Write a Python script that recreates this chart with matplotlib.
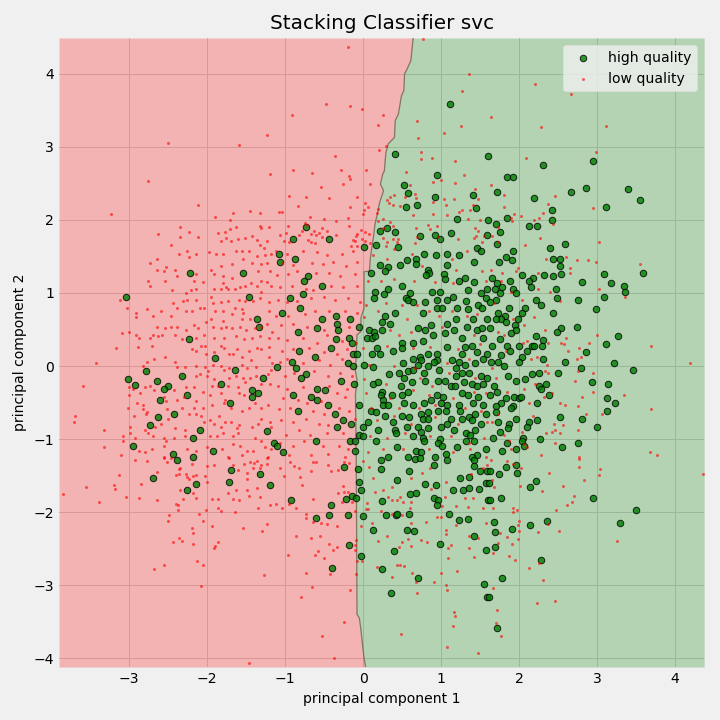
import numpy as np
import matplotlib
matplotlib.use("Agg")
import matplotlib.pyplot as plt

title = "Stacking Classifier svc"
xlabel = "principal component 1"
ylabel = "principal component 2"
class_names = ["high quality", "low quality"]
x_limits = (-3.9, 4.37)
y_limits = (-4.12, 4.49)
x_ticks = [-3, -2, -1, 0, 1, 2, 3, 4]
y_ticks = [-4, -3, -2, -1, 0, 1, 2, 3, 4]

# decision boundary (pc2 -> pc1 of boundary between regions)
bnd_pc2 = [-4.12, -4.0, -3.81, -3.61, -3.45, -3.40, -1.26, -0.39, -0.19, -0.07, 0.43, 0.47, 0.66, 0.79,
           1.29, 1.30, 1.47, 1.62, 1.76, 1.94, 2.08, 2.24, 2.40, 2.49, 2.63, 2.67, 2.92, 3.04, 3.13,
           3.36, 3.45, 3.70, 3.77, 4.0, 4.06, 4.18, 4.49]
bnd_pc1 = [0.03, 0.01, -0.01, -0.03, -0.05, -0.08, -0.09, -0.10, -0.08, -0.10, -0.08, -0.03, -0.03, 0.01,
           0.01, 0.08, 0.09, 0.11, 0.13, 0.15, 0.18, 0.21, 0.26, 0.22, 0.25, 0.27, 0.29, 0.32, 0.40,
           0.41, 0.45, 0.49, 0.52, 0.53, 0.56, 0.61, 0.64]

high_quality = [
 (1.11,3.59),(0.41,2.90),(1.60,2.88),(0.94,2.62),(0.52,2.48),(0.57,2.37),(0.92,2.32),(1.41,2.34),(0.69,2.21),
 (0.55,2.18),(1.44,2.16),(1.20,2.01),(1.60,2.00),(-0.74,1.90),(-0.90,1.74),(-0.44,1.74),(0.21,1.85),(0.30,1.89),
 (0.41,1.84),(0.73,1.78),(0.92,1.79),(0.98,1.74),(1.12,1.82),(1.59,1.79),(0.01,1.63),(0.16,1.66),(0.44,1.63),(1.46,1.62),
 (2.30,2.75),(2.95,2.81),(1.84,2.59),(1.92,2.59),(1.71,2.38),(2.19,2.30),(2.66,2.38),(2.85,2.44),(3.39,2.42),
 (3.55,2.27),(3.11,2.18),(2.42,2.14),(2.42,2.00),(1.84,2.03),(1.70,1.95),(2.12,1.92),(2.23,1.91),(1.75,1.84),
 (1.71,1.67),(2.39,1.62),(2.58,1.67),
 (-2.22,1.28),(-1.54,1.28),(-3.04,0.94),(-1.46,0.95),(-1.36,0.65),(-1.34,0.54),(-2.23,0.37),(-1.90,0.11),
 (-1.64,-0.05),(-2.79,-0.07),(-2.33,-0.14),(-3.01,-0.18),(-2.65,-0.21),(-2.92,-0.26),(-2.50,-0.28),(-2.55,-0.32),
 (-1.28,-0.16),(-1.83,-0.24),(-1.42,-0.33),(-1.35,-0.37),(-1.42,-0.43),(-2.26,-0.39),(-2.60,-0.47),(-1.71,-0.51),
 (-2.42,-0.66),(-2.63,-0.70),(-2.74,-0.81),(-2.09,-0.87),(-2.18,-0.98),(-1.23,-0.89),(-1.15,-1.05),(-2.95,-1.09),
 (-2.44,-1.21),(-1.92,-1.16),(-2.18,-1.25),
 (-1.08,1.54),(-1.07,1.43),(-0.88,1.46),(0.78,1.54),(0.93,1.52),(1.07,1.53),(1.23,1.52),(1.51,1.57),
 (0.21,1.38),(0.32,1.35),(0.28,1.30),(0.47,1.38),(0.56,1.45),(0.67,1.47),(0.67,1.39),(0.83,1.32),(0.84,1.28),
 (0.80,1.24),(1.07,1.38),(1.03,1.26),(1.05,1.19),(1.23,1.17),(1.30,1.21),(1.42,1.43),(1.42,1.15),(0.10,1.27),
 (-0.71,1.23),(-0.76,1.16),(-0.53,1.10),(-0.77,0.98),(-0.94,0.93),(-0.81,0.79),(-1.04,0.73),(0.15,1.01),
 (0.14,0.93),(0.26,0.98),(0.32,1.06),(0.50,1.09),(0.60,1.00),(0.55,0.93),(0.57,0.90),(0.64,0.87),(0.79,0.87),
 (0.88,1.01),(0.98,1.02),(0.94,0.91),(1.07,0.91),(1.15,0.95),(1.32,0.89),(1.34,1.04),(1.51,1.00),(1.59,1.05),
 (1.57,0.93),(1.47,0.84),(1.52,0.80),(1.34,0.78),(1.20,0.80),(0.94,0.79),(1.01,0.79),(0.76,0.72),(0.41,0.73),
 (-0.35,0.69),(-0.17,0.64),(-0.53,0.64),(-0.59,0.52),(-0.84,0.47),(-0.34,0.57),(-0.33,0.50),(-0.35,0.37),
 (-0.18,0.39),(-0.06,0.54),(0.28,0.68),(0.24,0.60),(0.34,0.57),(0.07,0.50),(0.14,0.47),(0.24,0.49),(0.05,0.38),
 (0.11,0.38),(0.15,0.41),(0.70,0.52),(0.79,0.49),(0.87,0.56),(1.07,0.58),(1.19,0.64),(1.33,0.54),(1.41,0.64),
 (1.46,0.50),(1.52,0.52),(1.53,0.39),(1.59,0.65),(1.05,0.45),(1.16,0.49),(1.26,0.39),(0.89,0.42),(0.64,0.32),
 (0.50,0.32),(0.76,0.34),(-0.83,0.20),(-0.62,0.13),(-0.41,0.24),(-0.15,0.31),(-0.13,0.17),(-0.08,0.16),
 (0.11,0.16),(0.21,0.16),(0.17,0.24),(0.38,0.20),(0.50,0.24),(0.73,0.13),(0.83,0.17),(0.94,0.17),(1.07,0.26),
 (1.23,0.06),(1.30,0.26),(1.39,0.28),(1.46,0.19),(1.59,0.17),(1.26,0.16),(0.64,0.10),(0.74,0.08),(0.94,0.08),
 (1.14,0.08),(-0.91,0.05),(-0.20,0.04),(-0.13,-0.00),(0.01,0.01),(0.12,-0.02),(0.51,0.04),(0.70,0.02),
 (0.83,-0.00),(0.91,0.05),(1.19,-0.03),(1.30,0.01),(1.43,0.04),(1.53,0.10),(-1.11,-0.02),(-0.86,-0.03),
 (-0.74,-0.11),(-0.80,-0.17),(-0.29,-0.21),(-0.12,-0.25),(0.33,-0.11),(0.46,-0.10),(0.57,-0.07),(0.64,-0.06),
 (0.78,-0.10),(0.97,-0.06),(1.19,-0.14),(1.26,-0.09),(1.35,-0.09),(1.51,-0.13),(1.59,-0.16),(0.12,-0.25),
 (0.19,-0.22),(0.48,-0.28),(0.52,-0.16),(0.62,-0.22),(0.79,-0.21),(0.96,-0.21),(1.05,-0.20),(1.12,-0.28),
 (1.18,-0.28),(1.29,-0.22),(1.39,-0.24),(1.46,-0.27),(1.53,-0.25),(-0.59,-0.31),(-0.49,-0.33),(-0.90,-0.39),
 (-0.67,-0.43),(-0.59,-0.47),(0.24,-0.36),(0.23,-0.40),(0.37,-0.39),(0.50,-0.40),(0.57,-0.36),(0.94,-0.40),
 (1.02,-0.43),(1.26,-0.37),(1.34,-0.40),(1.47,-0.42),(-0.45,-0.53),(-0.84,-0.62),(-0.36,-0.65),(-0.26,-0.74),
 (-0.16,-0.79),(-0.06,-0.53),(0.25,-0.46),(0.25,-0.54),(0.32,-0.53),(0.52,-0.50),(0.64,-0.54),(0.78,-0.51),
 (0.87,-0.47),(1.00,-0.50),(1.07,-0.54),(1.23,-0.53),(1.41,-0.50),(1.53,-0.53),(0.10,-0.61),(0.16,-0.63),
 (0.28,-0.68),(0.38,-0.77),(0.50,-0.69),(0.59,-0.70),(0.74,-0.65),(0.83,-0.63),(0.96,-0.62),(1.06,-0.61),
 (1.24,-0.62),(1.35,-0.70),(1.43,-0.66),(1.57,-0.65),(0.06,-0.77),(0.76,-0.73),(0.83,-0.73),(1.12,-0.73),
 (1.26,-0.73),(1.39,-0.74),(1.51,-0.80),(-0.34,-0.83),(-0.00,-0.84),(0.19,-0.87),(0.41,-0.88),(0.56,-0.84),
 (0.70,-0.84),(0.83,-0.85),(1.00,-0.84),(1.07,-0.80),(1.16,-0.87),(1.32,-0.92),(1.37,-0.94),(1.43,-0.88),
 (-1.11,-1.10),(-1.03,-1.18),(-0.61,-1.02),(-0.17,-1.02),(-0.11,-1.02),(-0.11,-1.16),(-0.06,-0.94),(-0.00,-0.96),
 (0.16,-1.02),(0.42,-0.92),(0.43,-1.11),(0.64,-0.96),(0.74,-0.90),(0.76,-0.98),(0.78,-1.03),(0.98,-1.00),
 (0.96,-1.06),(1.01,-1.10),(1.06,-1.21),(1.20,-1.11),(1.32,-1.03),(1.42,-1.03),(1.57,-1.13),(1.46,-1.22),
 (0.67,-1.17),(0.74,-1.18),(0.57,-1.25),(0.92,-1.24),(1.39,-1.24),(0.32,-1.25),
 (1.92,1.57),(1.74,1.43),(1.83,1.49),(1.91,1.45),(2.43,1.46),(2.52,1.47),(2.52,1.37),(2.53,1.26),(2.43,1.23),
 (2.32,1.24),(2.17,1.21),(2.12,1.17),(2.03,1.24),(1.88,1.17),(1.65,1.21),(1.71,1.13),(1.69,1.06),(1.78,1.08),
 (1.92,1.06),(1.96,1.00),(1.75,1.00),(2.15,1.08),(2.47,1.05),(3.08,1.26),(3.59,1.27),(2.81,1.15),(3.18,1.13),
 (3.34,1.09),(3.36,1.01),(3.08,0.94),(2.75,0.90),(2.48,0.93),(2.21,0.90),(2.28,0.83),(2.07,0.80),(2.03,0.72),
 (1.87,0.80),(1.70,0.91),(1.63,0.87),(1.73,0.73),(1.82,0.69),(1.77,0.65),(1.70,0.65),(1.98,0.64),(1.83,0.60),
 (1.94,0.56),(1.96,0.50),(1.63,0.52),(2.43,0.72),(2.98,0.78),(2.74,0.54),(2.53,0.52),(2.48,0.47),(2.21,0.41),
 (1.89,0.45),(1.75,0.37),(2.30,0.35),(3.27,0.41),(3.11,0.30),(2.85,0.19),(2.58,0.05),(1.65,0.28),(1.84,0.28),
 (2.00,0.27),(2.10,0.21),(2.16,0.27),(2.19,0.27),(2.29,0.27),(1.88,0.21),(2.03,0.13),(1.77,0.15),(2.00,0.06),
 (2.30,0.09),(1.64,0.06),(1.73,0.05),(1.80,-0.00),(1.86,-0.13),(2.16,-0.11),(2.25,-0.10),(2.49,-0.09),
 (2.79,-0.03),(3.22,0.04),(3.46,-0.06),(2.93,-0.22),(3.14,-0.24),(1.96,-0.21),(2.07,-0.18),(2.25,-0.27),
 (2.28,-0.31),(2.34,-0.25),(2.38,-0.39),(1.71,-0.35),(1.68,-0.27),(1.63,-0.40),(1.77,-0.50),(1.83,-0.44),
 (1.93,-0.43),(2.00,-0.44),(2.02,-0.43),(1.92,-0.55),(1.89,-0.58),(1.70,-0.55),(1.70,-0.63),(2.23,-0.51),
 (3.13,-0.44),(3.23,-0.51),(3.13,-0.61),(2.52,-0.70),(2.81,-0.73),(2.99,-0.83),(1.96,-0.73),(1.87,-0.79),
 (1.73,-0.77),(2.12,-0.77),(2.23,-0.74),(1.86,-0.85),(2.10,-0.83),(1.75,-0.90),(1.66,-0.99),(2.05,-0.98),
 (2.03,-1.03),(2.26,-1.00),(1.84,-1.06),(1.78,-1.16),(1.96,-1.14),(2.06,-1.09),(2.55,-1.11),(2.75,-1.06),
 (-2.39,-1.29),(-2.69,-1.53),(-2.26,-1.70),(-2.15,-1.62),(-1.69,-1.42),(-1.72,-1.59),(-1.32,-1.48),(-1.19,-1.63),
 (-0.25,-1.38),(-0.07,-1.41),(0.23,-1.29),(0.23,-1.41),(0.91,-1.36),(1.07,-1.29),(1.42,-1.29),(1.42,-1.37),
 (1.50,-1.44),(1.59,-1.44),(0.66,-1.27),(0.73,-1.26),(0.43,-1.56),(0.59,-1.44),(0.79,-1.62),(0.93,-1.63),
 (1.24,-1.53),(1.35,-1.52),(1.57,-1.60),(-0.06,-1.59),(-0.03,-1.70),(-0.93,-1.84),(-0.41,-1.90),(-0.22,-1.82),
 (-0.15,-1.78),(-0.09,-1.81),(0.24,-1.85),(0.60,-1.75),(0.67,-1.74),(0.91,-1.81),(0.96,-1.84),(0.94,-1.90),
 (1.15,-1.70),(1.28,-1.70),(1.35,-1.67),(1.48,-1.69),(1.60,-1.84),(-0.61,-2.08),(-0.44,-2.04),(-0.20,-2.04),
 (-0.00,-2.05),(0.29,-2.04),(0.42,-2.04),(0.43,-2.03),(0.59,-2.03),(1.10,-2.03),(1.23,-2.11),(1.34,-2.10),
 (0.12,-2.25),(0.56,-2.25),(0.65,-2.26),(1.42,-2.32),(-0.18,-2.45),(0.98,-2.44),(0.39,-2.53),(1.57,-2.52),
 (-0.03,-2.60),(-0.40,-2.77),(0.24,-2.78),(0.70,-2.90),(0.35,-3.11),(1.55,-2.99),(1.59,-3.16),
 (1.63,-1.44),(1.74,-1.48),(1.83,-1.38),(1.96,-1.36),(1.97,-1.47),(1.61,-1.60),(2.21,-1.58),(2.14,-1.66),
 (1.77,-1.81),(1.63,-1.84),(2.95,-1.81),(3.49,-1.97),(1.68,-2.14),(1.69,-2.27),(1.91,-2.23),(2.14,-2.18),
 (2.35,-2.12),(3.29,-2.15),(1.69,-2.48),(2.28,-2.66),(1.78,-2.90),(1.61,-3.16),(1.71,-3.58),
]

low_quality = [
 (-1.24,3.16),(-2.50,3.05),(-1.59,3.03),(-1.19,2.63),(-2.76,2.53),(-2.12,2.21),(-3.24,2.08),(-1.90,2.04),
 (-1.67,2.10),(-1.45,2.12),(-1.32,2.10),(-1.71,2.00),(-2.35,1.90),(-2.63,1.81),(-2.23,1.84),(-2.35,1.77),
 (-2.12,1.77),(-2.47,1.66),(-1.86,1.82),(-1.77,1.84),(-1.71,1.88),(-1.63,1.90),(-1.32,1.92),(-1.31,1.89),
 (-1.21,1.90),(-1.82,1.71),(-1.76,1.75),(-1.69,1.71),(-1.60,1.74),(-1.51,1.75),(-1.42,1.78),(-1.36,1.73),
 (-1.23,1.71),(-1.32,1.66),(-1.27,1.62),
 (-0.20,4.37),(0.76,4.48),(1.35,4.00),(1.26,3.77),(-0.48,3.58),(-0.17,3.56),(-0.02,3.52),(-0.91,3.44),
 (0.25,3.44),(0.19,3.30),(0.69,3.36),(1.25,3.29),(1.03,3.19),(0.70,3.12),(0.29,3.01),(0.20,2.96),(0.74,2.93),
 (0.74,2.84),(0.88,2.85),(1.18,2.81),(-0.36,2.88),(-0.90,2.68),(-0.66,2.64),(-0.29,2.68),(0.03,2.68),
 (-0.18,2.60),(-0.17,2.56),(0.55,2.66),(1.29,2.62),(-0.26,2.49),(0.09,2.49),(-0.54,2.45),(0.60,2.48),
 (0.89,2.52),(1.00,2.55),(1.18,2.51),(1.43,2.42),(-0.95,2.33),(-0.44,2.30),(-0.08,2.32),(-0.74,2.31),
 (0.39,2.34),(0.34,2.32),(0.66,2.36),(0.68,2.30),(0.30,2.27),(0.33,2.23),(0.38,2.21),(0.53,2.32),(0.47,2.19),
 (0.89,2.25),(1.03,2.29),(1.16,2.29),(1.47,2.29),(1.41,2.21),(1.06,2.21),(-0.84,2.19),(-0.17,2.18),(0.02,2.23),
 (0.06,2.18),(0.01,2.14),(0.19,2.15),(0.18,2.10),(0.00,2.08),(0.64,2.07),(0.89,2.08),(1.07,2.07),(1.26,2.14),
 (1.23,2.11),(1.37,2.14),(-1.08,2.11),(-1.04,2.11),(-0.68,2.04),(-0.50,2.01),(-0.35,1.99),(-0.20,2.03),
 (0.25,2.01),(0.19,1.99),(0.34,1.97),(0.38,1.92),(0.25,1.89),(0.83,1.93),(0.94,1.92),(0.85,1.88),(1.34,2.01),
 (1.50,2.00),(1.43,1.89),(1.47,1.85),(-0.97,1.92),(-0.75,1.96),(-0.72,1.93),(-0.63,1.85),(-0.53,1.89),
 (-0.47,1.85),(-0.18,1.92),(-0.08,1.81),(-0.03,1.86),(0.02,1.84),(0.07,1.81),(-0.99,1.82),(-1.07,1.79),
 (-0.82,1.79),(-0.79,1.85),(-0.67,1.81),(-0.61,1.79),(-0.57,1.82),(-0.53,1.77),(-0.35,1.79),(-0.71,1.73),
 (-0.67,1.70),(-0.62,1.68),(-1.02,1.71),(-0.95,1.70),(-0.13,1.73),(-0.09,1.78),(-0.11,1.71),(-0.02,1.74),
 (0.02,1.71),(0.09,1.68),(0.25,1.75),(0.38,1.74),(0.30,1.70),(0.43,1.70),(0.44,1.74),(0.29,1.64),(0.68,1.89),
 (0.66,1.68),(0.69,1.77),(0.96,1.77),(1.21,1.74),(1.42,1.75),(1.44,1.78),(1.52,1.70),(1.55,1.78),(-0.16,1.64),
 (-0.08,1.64),
 (2.20,3.86),(2.66,3.73),(1.64,3.41),(2.28,3.27),(3.11,3.29),(2.98,2.93),(2.09,2.85),(1.64,2.48),(1.80,2.34),
 (2.46,2.33),(2.37,2.22),(1.80,2.18),(2.94,2.16),(2.30,2.10),(2.25,2.03),(2.19,2.00),(2.02,2.05),(1.93,2.08),
 (1.89,2.03),(1.91,1.99),(2.43,1.95),(1.73,1.90),(1.65,1.78),(2.26,1.75),(2.07,1.66),(3.02,1.70),(1.73,1.70),
 (-2.36,1.54),(-2.26,1.57),(-2.14,1.54),(-2.24,1.49),(-1.98,1.56),(-1.89,1.53),(-1.80,1.54),(-1.63,1.58),
 (-1.55,1.57),(-1.46,1.57),(-1.36,1.50),(-1.26,1.52),(-1.18,1.53),(-1.54,1.47),(-1.42,1.41),(-1.31,1.39),
 (-1.23,1.41),(-2.73,1.41),(-2.65,1.46),(-2.53,1.35),(-2.64,1.32),(-2.56,1.30),(-2.41,1.31),(-1.95,1.32),
 (-1.82,1.37),(-1.68,1.39),(-1.35,1.30),(-1.19,1.30),(-2.76,1.17),(-2.73,1.09),(-2.54,1.16),(-2.39,1.23),
 (-2.14,1.26),(-2.17,1.16),(-2.06,1.15),(-1.91,1.26),(-1.80,1.23),(-1.68,1.20),(-1.80,1.13),(-1.76,1.08),
 (-1.91,1.05),(-1.83,1.05),(-1.74,1.05),(-1.65,1.05),(-1.58,1.08),(-1.51,1.09),(-1.44,1.13),(-1.36,1.10),
 (-1.31,1.16),(-1.24,1.15),(-1.18,1.09),(-1.31,1.02),(-2.45,1.04),(-2.27,1.00),(-2.21,1.04),(-2.14,1.05),
 (-3.12,0.91),(-3.03,0.80),(-2.77,0.78),(-2.44,0.86),(-2.39,0.80),(-2.31,0.89),(-2.26,0.91),(-2.14,0.91),
 (-2.27,0.76),(-2.19,0.75),(-2.09,0.79),(-2.04,0.80),(-1.95,0.94),(-1.92,0.86),(-1.83,0.87),(-1.74,0.89),
 (-1.59,0.90),(-1.51,0.89),(-1.41,0.89),(-1.32,0.93),(-1.21,0.87),(-1.21,0.75),(-1.65,0.79),(-1.56,0.78),
 (-1.90,0.76),(-1.80,0.76),(-1.68,0.71),(-1.54,0.72),(-2.91,0.72),(-2.91,0.67),(-2.69,0.68),(-2.59,0.76),
 (-2.47,0.68),(-1.95,0.65),(-3.09,0.45),(-3.00,0.47),(-2.91,0.42),(-2.87,0.38),(-2.73,0.38),(-2.69,0.42),
 (-2.63,0.41),(-2.58,0.43),(-2.65,0.54),(-2.54,0.52),(-2.46,0.53),(-2.39,0.53),(-2.27,0.50),(-2.17,0.56),
 (-2.12,0.52),(-2.01,0.60),(-1.92,0.53),(-1.83,0.52),(-1.76,0.54),(-1.68,0.52),(-1.58,0.53),(-1.50,0.50),
 (-1.39,0.52),(-1.31,0.53),(-1.23,0.57),(-1.55,0.64),(-1.45,0.65),(-1.80,0.62),(-1.17,0.47),(-2.15,0.39),
 (-2.04,0.42),(-1.91,0.38),(-1.78,0.38),(-1.63,0.41),(-1.53,0.37),(-1.42,0.38),(-1.32,0.41),(-1.21,0.38),
 (-2.41,0.42),(-2.33,0.37),(-3.17,0.24),(-2.89,0.26),(-2.71,0.28),(-2.54,0.13),(-2.41,0.06),(-2.19,0.23),
 (-2.14,0.20),(-2.08,0.28),(-2.03,0.27),(-2.01,0.17),(-1.91,0.19),(-1.83,0.27),(-1.78,0.24),(-1.72,0.16),
 (-1.67,0.17),(-1.62,0.23),(-1.56,0.13),(-1.46,0.21),(-1.44,0.08),(-1.36,0.24),(-1.31,0.23),(-1.21,0.26),
 (-1.21,0.13),(-2.68,0.10),(-2.77,0.05),(-3.42,0.04),(-2.82,-0.00),(-2.39,-0.02),(-2.28,-0.02),(-2.15,0.00),
 (-2.03,-0.02),(-1.99,-0.07),(-1.92,0.01),(-1.82,0.00),(-1.78,-0.06),(-1.72,-0.03),(-1.55,0.01),(-1.49,-0.03),
 (-1.37,-0.02),(-1.17,0.04),(-1.18,-0.05),(-2.15,-0.13),(-2.09,-0.11),(-2.00,-0.14),(-1.91,-0.18),(-1.72,-0.16),
 (-1.63,-0.13),(-1.54,-0.17),(-1.45,-0.17),(-1.37,-0.14),(-1.22,-0.11),(-3.59,-0.28),(-3.00,-0.29),(-2.95,-0.32),
 (-2.86,-0.37),(-2.80,-0.29),(-2.73,-0.27),(-2.68,-0.33),(-2.42,-0.33),(-2.27,-0.29),(-2.17,-0.29),(-1.94,-0.28),
 (-1.86,-0.28),(-1.74,-0.28),(-1.60,-0.29),(-1.51,-0.22),(-1.31,-0.24),(-1.19,-0.25),(-3.00,-0.40),(-2.90,-0.51),
 (-2.82,-0.54),(-2.56,-0.43),(-2.53,-0.48),(-2.39,-0.47),(-2.30,-0.43),(-2.14,-0.48),(-2.05,-0.36),(-1.96,-0.39),
 (-1.82,-0.37),(-1.77,-0.46),(-1.59,-0.37),(-1.53,-0.39),(-1.39,-0.50),(-1.22,-0.54),(-3.01,-0.58),(-2.83,-0.59),
 (-2.77,-0.63),(-2.51,-0.59),(-2.32,-0.57),(-2.17,-0.57),(-2.06,-0.57),(-1.94,-0.54),(-1.78,-0.51),(-1.69,-0.57),
 (-1.56,-0.62),(-1.46,-0.57),(-1.31,-0.57),(-3.69,-0.68),(-2.94,-0.68),(-2.78,-0.65),(-2.24,-0.66),(-2.14,-0.66),
 (-2.08,-0.68),(-1.96,-0.74),(-1.85,-0.68),(-3.71,-0.77),(-3.33,-0.87),(-2.99,-0.83),(-2.99,-0.91),(-2.80,-0.88),
 (-2.76,-0.91),(-2.67,-0.83),(-2.59,-0.79),(-2.50,-0.73),(-2.41,-0.85),(-2.28,-0.87),(-2.04,-0.77),(-1.91,-0.80),
 (-1.83,-0.83),(-1.77,-0.76),(-1.69,-0.77),(-1.62,-0.85),(-1.59,-0.81),(-1.42,-0.84),(-1.35,-0.80),(-1.31,-0.73),
 (-1.20,-0.76),(-1.18,-0.83),(-3.08,-0.96),(-3.08,-1.03),(-2.92,-0.98),(-2.69,-0.96),(-2.55,-0.98),(-2.42,-0.99),
 (-2.28,-0.96),(-1.96,-0.96),(-1.87,-0.96),(-1.80,-0.92),(-1.67,-0.96),(-1.60,-0.91),(-1.39,-0.98),(-1.31,-1.03),
 (-3.32,-1.11),(-3.10,-1.22),(-2.87,-1.17),(-2.80,-1.18),(-2.71,-1.14),(-2.55,-1.09),(-2.53,-1.03),(-2.26,-1.13),
 (-2.14,-1.16),(-2.00,-1.11),(-1.81,-1.14),(-1.67,-1.07),(-1.58,-1.10),(-1.49,-1.17),(-1.41,-1.17),(-1.26,-1.11),
 (-1.18,-1.14),(-2.56,-1.25),(-1.73,-1.25),(-1.55,-1.22),(-1.22,-1.25),
 (-1.12,1.57),(-0.98,1.53),(-0.77,1.57),(-0.59,1.56),(-0.47,1.52),(-0.27,1.54),(-0.13,1.57),(-1.04,1.41),
 (-0.90,1.38),(-0.66,1.41),(-0.52,1.39),(-0.39,1.43),(-0.22,1.37),(-0.08,1.42),(-1.11,1.24),(-0.97,1.26),
 (-0.85,1.30),(-0.61,1.27),(-0.44,1.28),(-0.30,1.23),(-0.11,1.26),(-1.07,1.08),(-0.91,1.10),(-0.74,1.06),
 (-0.65,1.04),(-0.41,1.09),(-0.26,1.08),(-0.08,1.10),(-1.09,0.90),(-0.98,0.87),(-0.85,0.89),(-0.67,0.93),
 (-0.50,0.94),(-0.36,0.90),(-0.20,0.93),(-0.04,0.87),(-1.12,0.68),(-0.97,0.69),(-0.75,0.71),(-0.62,0.75),
 (-0.44,0.76),(-0.24,0.75),(-0.08,0.72),(-1.06,0.56),(-0.90,0.57),(-0.72,0.53),(-0.50,0.50),(-0.18,0.54),
 (-1.09,0.39),(-0.98,0.35),(-0.77,0.38),(-0.59,0.32),(-0.47,0.42),(-0.27,0.34),(-0.09,0.31),(-1.04,0.21),
 (-0.90,0.23),(-0.70,0.24),(-0.50,0.19),(-0.34,0.17),(-0.21,0.23),(-1.07,0.06),(-0.98,0.10),(-0.77,0.04),
 (-0.57,0.08),(-0.43,0.01),(-0.27,0.09),(-1.00,-0.14),(-0.89,-0.10),(-0.63,-0.07),(-0.45,-0.13),(-0.30,-0.09),
 (-0.15,-0.13),(-1.09,-0.27),(-0.98,-0.31),(-0.77,-0.29),(-0.44,-0.27),(-0.34,-0.37),(-0.21,-0.32),(-1.03,-0.44),
 (-0.84,-0.47),(-0.72,-0.51),(-0.54,-0.48),(-0.24,-0.43),(-1.08,-0.59),(-0.94,-0.57),(-0.65,-0.61),(-0.50,-0.65),
 (-0.31,-0.57),(-0.18,-0.62),(-1.06,-0.74),(-0.90,-0.77),(-0.74,-0.73),(-0.57,-0.79),(-0.45,-0.81),(-0.11,-0.72),
 (-0.99,-0.94),(-0.83,-0.88),(-0.68,-0.95),(-0.47,-0.92),(-0.26,-0.91),(-1.07,-1.05),(-0.90,-1.10),(-0.76,-1.03),
 (-0.52,-1.09),(-0.31,-1.10),(-0.20,-1.14),(-0.95,-1.22),(-0.67,-1.22),(-0.45,-1.20),(-0.24,-1.24),
 (0.12,1.52),(0.30,1.46),(0.39,1.60),(0.62,1.53),(1.14,1.47),(1.33,1.57),(0.75,1.37),(1.19,1.32),(1.52,1.30),
 (0.06,1.16),(0.23,1.17),(0.39,1.19),(0.65,1.16),(0.92,1.15),(1.15,1.13),(1.57,1.17),(0.03,0.83),(0.29,0.86),
 (0.50,0.84),(0.69,0.83),(0.84,0.76),(1.14,0.76),(1.46,0.71),(0.01,0.67),(0.19,0.75),(0.56,0.65),(0.97,0.68),
 (1.33,0.68),(0.34,0.50),(0.46,0.42),(0.61,0.47),(1.01,0.53),(1.42,0.42),(-0.00,0.24),(0.30,0.27),(0.64,0.24),
 (0.85,0.26),(1.21,0.23),(1.50,0.30),(0.07,0.01),(0.39,-0.00),(0.66,-0.03),(1.07,0.04),(1.35,0.10),(0.01,-0.18),
 (0.29,-0.25),(0.73,-0.17),(0.88,-0.28),(1.10,-0.10),(1.43,-0.16),(0.03,-0.37),(0.34,-0.44),(0.64,-0.33),
 (0.84,-0.39),(1.15,-0.44),(1.42,-0.35),(1.57,-0.37),(0.10,-0.57),(0.46,-0.58),(0.71,-0.57),(0.92,-0.53),
 (1.30,-0.57),(1.51,-0.61),(0.17,-0.74),(0.39,-0.69),(0.61,-0.80),(0.92,-0.70),(1.21,-0.80),(1.59,-0.76),
 (0.09,-0.96),(0.30,-0.99),(0.53,-0.92),(0.85,-0.96),(1.12,-0.96),(1.35,-1.06),(1.55,-0.98),(0.06,-1.18),
 (0.25,-1.14),(0.51,-1.13),(0.84,-1.13),(1.15,-1.18),(1.37,-1.14),(1.57,-1.24),
 (2.60,1.49),(2.74,1.45),(2.88,1.45),(2.98,1.43),(2.34,1.46),(2.24,1.28),(2.65,1.34),(2.65,1.27),(3.55,1.39),
 (1.98,1.34),(1.96,1.30),(1.78,1.28),(1.64,1.32),(1.89,1.02),(2.24,1.05),(2.39,1.01),(3.02,1.05),(3.35,0.94),
 (2.03,0.90),(2.52,0.89),(2.19,0.67),(1.92,0.64),(2.06,0.56),(2.33,0.50),(2.60,0.39),(2.99,0.42),(2.90,0.32),
 (2.53,0.32),(2.57,0.30),(2.37,0.32),(2.62,0.21),(2.76,0.24),(2.79,0.12),(2.74,0.09),(2.23,0.13),(2.15,0.10),
 (3.69,0.27),(4.19,0.04),(2.35,0.01),(2.33,-0.07),(2.37,-0.09),(2.75,-0.07),(2.95,-0.10),(2.72,-0.21),(2.95,-0.35),
 (3.34,-0.39),(2.81,-0.43),(2.06,-0.32),(2.52,-0.51),(2.58,-0.53),(2.20,-0.25),(2.12,-0.50),(2.42,-0.37),
 (2.32,-0.42),(2.75,-0.55),(2.86,-0.65),(3.06,-0.65),(3.69,-0.59),(2.17,-0.68),(2.44,-0.80),(2.56,-0.81),
 (2.46,-0.88),(2.42,-0.90),(2.34,-0.92),(2.75,-0.87),(2.52,-0.92),(2.03,-0.90),(2.46,-1.06),(2.06,-1.07),
 (1.87,-1.03),(2.10,-1.11),(1.89,-1.14),(3.67,-1.18),(3.76,-1.22),(2.28,-1.22),(2.76,-1.25),(1.80,-0.94),
 (1.65,-0.76),(1.73,-0.66),(1.84,-0.35),(1.70,-0.16),(1.65,-0.03),(1.83,0.20),(1.73,0.47),(1.80,0.42),
 (1.68,0.86),(1.77,1.16),(2.05,0.32),(2.10,0.34),
 (-3.85,-1.75),(-3.56,-1.66),(-3.39,-1.86),(-3.19,-1.63),(-3.18,-1.69),(-3.13,-1.49),(-3.04,-1.79),(-2.92,-1.29),
 (-2.77,-1.30),(-2.87,-1.81),(-2.85,-1.62),(-2.65,-1.45),(-2.64,-1.84),(-2.55,-1.26),(-2.51,-1.32),(-2.47,-1.26),
 (-2.40,-1.49),(-2.36,-1.48),(-2.36,-1.41),(-2.35,-1.40),(-2.27,-1.48),(-2.26,-1.52),(-2.24,-1.55),(-2.19,-1.34),
 (-2.18,-1.51),(-2.15,-1.49),(-2.35,-1.70),(-2.31,-1.82),(-2.18,-1.74),(-2.14,-1.81),(-2.40,-1.89),(-2.38,-1.90),
 (-2.38,-1.97),(-2.49,-2.04),(-2.50,-2.12),(-2.10,-2.03),(-2.05,-2.12),(-2.01,-1.97),(-2.03,-1.51),(-2.00,-1.59),
 (-2.00,-1.37),(-1.91,-1.36),(-1.94,-1.82),(-1.86,-1.82),(-1.86,-1.95),(-1.82,-1.99),(-1.74,-1.74),(-1.67,-1.36),
 (-1.60,-1.42),(-1.63,-1.70),(-1.67,-1.82),(-1.59,-1.84),(-1.65,-2.00),(-1.72,-1.26),(-1.53,-1.34),(-1.45,-1.32),
 (-1.40,-1.33),(-1.36,-1.30),(-1.31,-1.36),(-1.24,-1.34),(-1.23,-1.26),(-1.41,-1.40),(-1.33,-1.40),(-1.49,-1.47),
 (-1.49,-1.55),(-1.49,-1.70),(-1.47,-1.78),(-1.36,-1.67),(-1.32,-1.79),(-1.35,-1.95),(-1.19,-1.90),(-1.54,-2.22),
 (-1.30,-2.26),(-1.24,-2.16),(-1.94,-2.19),(-2.19,-2.22),(-2.18,-2.29),(-2.36,-2.36),(-2.32,-2.40),(-2.44,-2.41),
 (-2.18,-2.44),(-1.86,-2.41),(-1.90,-2.47),(-1.91,-2.49),(-2.13,-2.67),(-2.05,-2.73),(-2.55,-2.73),(-2.68,-2.78),
 (-1.27,-2.86),(-2.08,-3.01),(-1.47,-4.07),
 (-1.07,-1.40),(-0.94,-1.32),(-0.89,-1.37),(-0.83,-1.40),(-0.67,-1.44),(-0.65,-1.32),(-0.61,-1.32),(-0.45,-1.36),
 (-0.41,-1.44),(-0.33,-1.42),(-0.25,-1.32),(-0.18,-1.33),(-0.81,-1.52),(-1.02,-1.51),(-0.79,-1.63),(-0.65,-1.82),
 (-1.12,-1.89),(-1.04,-1.95),(-0.95,-1.89),(-0.86,-1.95),(-0.74,-2.03),(-0.74,-2.08),(-0.65,-2.14),(-0.54,-2.15),
 (-0.47,-2.16),(-0.34,-2.19),(-0.26,-1.64),(-0.33,-1.74),(-0.25,-1.73),(-0.20,-1.73),(-0.27,-1.86),(-0.15,-1.86),
 (-0.11,-1.99),(-0.86,-2.32),(-0.67,-2.36),(-0.56,-2.33),(-0.44,-2.44),(-0.39,-2.52),(-0.34,-2.48),(-0.58,-2.53),
 (-0.62,-2.58),(-0.97,-2.58),(-0.50,-2.63),(-0.11,-2.52),(-0.11,-2.45),(-0.09,-2.38),(-0.08,-2.67),(-0.02,-2.67),
 (-0.74,-2.84),(-0.43,-2.85),(-0.09,-2.85),(-0.66,-3.03),(-0.80,-3.16),(-0.17,-3.06),(-0.25,-3.51),(-0.53,-3.69),
 (-0.38,-4.00),
 (0.00,-1.30),(0.07,-1.38),(0.12,-1.53),(0.15,-1.73),(0.25,-1.70),(0.32,-1.79),(0.37,-1.84),(0.43,-1.84),
 (0.47,-1.79),(0.51,-1.86),(0.61,-1.86),(0.05,-1.88),(0.03,-1.96),(0.06,-1.96),(0.23,-1.99),(0.37,-2.03),
 (0.50,-2.04),(0.60,-1.95),(0.61,-2.15),(0.80,-2.14),(0.94,-2.07),(1.00,-2.07),(1.01,-1.92),(1.05,-1.79),
 (1.19,-2.18),(1.06,-2.25),(1.06,-2.30),(-0.03,-2.19),(0.11,-2.15),(0.30,-2.32),(0.50,-2.41),(0.46,-2.48),
 (0.57,-2.37),(0.61,-2.47),(0.74,-2.38),(0.82,-2.41),(0.19,-2.40),(1.09,-2.49),(1.12,-2.45),(1.09,-2.63),
 (1.35,-2.49),(1.42,-2.62),(1.47,-2.36),(1.35,-2.33),(0.17,-2.75),(0.43,-2.73),(0.47,-2.73),(0.52,-2.74),
 (0.37,-2.89),(0.62,-2.84),(0.67,-2.96),(0.91,-2.96),(1.00,-2.84),(1.20,-2.81),(1.06,-3.00),(1.07,-3.06),
 (0.69,-3.11),(1.16,-3.37),(1.18,-3.42),(1.15,-3.56),(0.48,-3.67),(1.07,-3.84),(1.47,-3.93),(1.59,-1.36),
 (1.53,-1.40),(1.38,-1.48),(1.06,-1.59),(0.87,-1.69),(1.30,-1.81),(1.41,-1.81),(1.34,-1.93),(1.53,-1.95),
 (1.57,-2.15),(1.19,-1.92),(0.37,-1.66),(0.61,-1.53),(0.75,-1.47),(0.85,-1.40),
 (1.64,-1.29),(1.84,-1.30),(1.92,-1.34),(2.02,-1.40),(2.76,-1.27),(2.76,-1.38),(2.38,-1.47),(3.03,-1.41),
 (3.02,-1.49),(2.83,-1.56),(1.65,-1.56),(1.68,-1.66),(2.01,-1.64),(2.56,-1.64),(2.29,-1.71),(2.70,-1.78),
 (2.67,-1.86),(2.61,-1.90),(2.47,-1.97),(1.66,-1.95),(1.92,-1.95),(1.92,-2.00),(1.97,-1.97),(2.00,-2.12),
 (1.98,-2.18),(2.00,-2.26),(1.98,-2.37),(1.75,-2.29),(1.84,-2.34),(1.73,-2.42),(1.91,-2.44),(1.66,-2.56),
 (1.87,-2.60),(1.95,-2.66),(2.24,-2.27),(2.51,-2.26),(2.37,-2.16),(3.25,-2.40),(2.12,-2.77),(2.25,-2.70),
 (2.31,-2.93),(1.66,-3.04),(2.23,-3.25),(2.46,-3.22),(1.71,-3.34),(1.70,-3.52),(1.77,-3.69),(4.35,-1.48),
]

hq = np.array(high_quality)
lq = np.array(low_quality)

plt.rcParams['font.family'] = ['DejaVu Sans']
plt.rcParams['font.size'] = 14

fig = plt.figure(figsize=(10, 10), dpi=72, facecolor='#f0f0f0')
ax = fig.add_axes([0.082, 0.0736, 0.896, 0.8736])
ax.set_facecolor('#f0f0f0')
ax.set_axisbelow(True)
ax.grid(True, color='#cbcbcb', linewidth=1.0, zorder=0)

ax.fill_betweenx(bnd_pc2, x_limits[0], bnd_pc1, color='red', alpha=0.25, linewidth=0, zorder=1)
ax.fill_betweenx(bnd_pc2, bnd_pc1, x_limits[1], color='green', alpha=0.25, linewidth=0, zorder=1)
ax.plot(bnd_pc1, bnd_pc2, color='#5d6446', linewidth=1.3, alpha=0.75, zorder=1.5)

ax.scatter(hq[:, 0], hq[:, 1], s=42, c='green', edgecolors='black', linewidths=1.0,
           alpha=0.8, label=class_names[0], zorder=3)
ax.scatter(lq[:, 0], lq[:, 1], s=9, c='red', linewidths=0, alpha=0.6,
           label=class_names[1], zorder=4)

ax.set_xlim(*x_limits)
ax.set_ylim(*y_limits)
ax.set_xticks(x_ticks)
ax.set_yticks(y_ticks)
ax.tick_params(length=0, labelsize=14, pad=5)
for s in ax.spines.values():
    s.set_visible(False)

ax.set_title(title, fontsize=20, pad=9)
ax.set_xlabel(xlabel, fontsize=14, labelpad=6)
ax.set_ylabel(ylabel, fontsize=14, labelpad=6)

leg = ax.legend(loc='upper right', fontsize=14, frameon=True, fancybox=True,
                facecolor='#f0f0f0', edgecolor='#e0e0e0', framealpha=0.8)

fig.savefig('out.png', dpi=72, facecolor='#f0f0f0')
